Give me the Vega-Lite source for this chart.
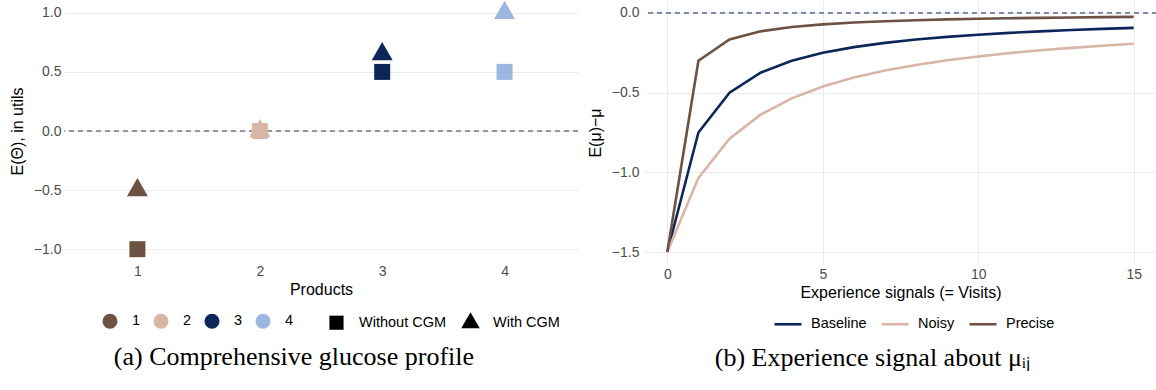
{
  "$schema": "https://vega.github.io/schema/vega-lite/v6.json",
  "padding": {"left": 9, "top": 0, "right": 0, "bottom": 0},
  "spacing": 8,
  "datasets": {
    "utility": [
      {"product": 1, "cgm": "Without CGM", "value": -1},
      {"product": 1, "cgm": "With CGM", "value": -0.5},
      {"product": 2, "cgm": "Without CGM", "value": 0},
      {"product": 2, "cgm": "With CGM", "value": 0},
      {"product": 3, "cgm": "Without CGM", "value": 0.5},
      {"product": 3, "cgm": "With CGM", "value": 0.65},
      {"product": 4, "cgm": "Without CGM", "value": 0.5},
      {"product": 4, "cgm": "With CGM", "value": 1}
    ],
    "learning": [
      {"visits": 0, "signal": "Baseline", "gap": -1.5},
      {"visits": 1, "signal": "Baseline", "gap": -0.75},
      {"visits": 2, "signal": "Baseline", "gap": -0.5},
      {"visits": 3, "signal": "Baseline", "gap": -0.375},
      {"visits": 4, "signal": "Baseline", "gap": -0.3},
      {"visits": 5, "signal": "Baseline", "gap": -0.25},
      {"visits": 6, "signal": "Baseline", "gap": -0.2143},
      {"visits": 7, "signal": "Baseline", "gap": -0.1875},
      {"visits": 8, "signal": "Baseline", "gap": -0.1667},
      {"visits": 9, "signal": "Baseline", "gap": -0.15},
      {"visits": 10, "signal": "Baseline", "gap": -0.1364},
      {"visits": 11, "signal": "Baseline", "gap": -0.125},
      {"visits": 12, "signal": "Baseline", "gap": -0.1154},
      {"visits": 13, "signal": "Baseline", "gap": -0.1071},
      {"visits": 14, "signal": "Baseline", "gap": -0.1},
      {"visits": 15, "signal": "Baseline", "gap": -0.0938},
      {"visits": 0, "signal": "Noisy", "gap": -1.5},
      {"visits": 1, "signal": "Noisy", "gap": -1.0345},
      {"visits": 2, "signal": "Noisy", "gap": -0.7895},
      {"visits": 3, "signal": "Noisy", "gap": -0.6383},
      {"visits": 4, "signal": "Noisy", "gap": -0.5357},
      {"visits": 5, "signal": "Noisy", "gap": -0.4615},
      {"visits": 6, "signal": "Noisy", "gap": -0.4054},
      {"visits": 7, "signal": "Noisy", "gap": -0.3614},
      {"visits": 8, "signal": "Noisy", "gap": -0.3261},
      {"visits": 9, "signal": "Noisy", "gap": -0.297},
      {"visits": 10, "signal": "Noisy", "gap": -0.2727},
      {"visits": 11, "signal": "Noisy", "gap": -0.2521},
      {"visits": 12, "signal": "Noisy", "gap": -0.2344},
      {"visits": 13, "signal": "Noisy", "gap": -0.219},
      {"visits": 14, "signal": "Noisy", "gap": -0.2055},
      {"visits": 15, "signal": "Noisy", "gap": -0.1935},
      {"visits": 0, "signal": "Precise", "gap": -1.5},
      {"visits": 1, "signal": "Precise", "gap": -0.3},
      {"visits": 2, "signal": "Precise", "gap": -0.1667},
      {"visits": 3, "signal": "Precise", "gap": -0.1154},
      {"visits": 4, "signal": "Precise", "gap": -0.0882},
      {"visits": 5, "signal": "Precise", "gap": -0.0714},
      {"visits": 6, "signal": "Precise", "gap": -0.06},
      {"visits": 7, "signal": "Precise", "gap": -0.0517},
      {"visits": 8, "signal": "Precise", "gap": -0.0455},
      {"visits": 9, "signal": "Precise", "gap": -0.0405},
      {"visits": 10, "signal": "Precise", "gap": -0.0366},
      {"visits": 11, "signal": "Precise", "gap": -0.0333},
      {"visits": 12, "signal": "Precise", "gap": -0.0306},
      {"visits": 13, "signal": "Precise", "gap": -0.0283},
      {"visits": 14, "signal": "Precise", "gap": -0.0263},
      {"visits": 15, "signal": "Precise", "gap": -0.0246}
    ],
    "zero": [{"y": 0}]
  },
  "hconcat": [
    {
      "width": 514,
      "height": 260,
      "title": {
        "text": "(a) Comprehensive glucose profile",
        "orient": "bottom",
        "anchor": "middle",
        "frame": "bounds",
        "font": "Liberation Serif",
        "fontSize": 26,
        "fontWeight": "normal",
        "color": "#000",
        "offset": 14
      },
      "layer": [
        {
          "data": {"name": "zero"},
          "mark": {"type": "rule", "color": "#3a3a3a", "strokeWidth": 1, "strokeDash": [5, 4]},
          "encoding": {"y": {"field": "y", "type": "quantitative"}}
        },
        {
          "data": {"name": "utility"},
          "mark": {"type": "point", "filled": true, "opacity": 1, "size": 256},
          "encoding": {
            "x": {
              "field": "product",
              "type": "ordinal",
              "scale": {"type": "point", "padding": 0.6},
              "axis": {"labelAngle": 0, "title": "Products", "labelPadding": 3, "titlePadding": 3}
            },
            "y": {
              "field": "value",
              "type": "quantitative",
              "scale": {"domain": [-1.1, 1.1], "nice": false, "zero": false},
              "axis": {"values": [-1, -0.5, 0, 0.5, 1], "format": ".1f", "title": "E(Θ), in utils", "labelPadding": 3, "titlePadding": 8}
            },
            "color": {
              "field": "product",
              "type": "ordinal",
              "scale": {"domain": [1, 2, 3, 4], "range": ["#6b5242", "#d8b5a5", "#0c2659", "#9bb7df"]},
              "legend": {"title": null, "orient": "none", "legendX": 38, "legendY": 312, "symbolType": "circle", "symbolSize": 227, "symbolStrokeWidth": 0, "labelOffset": 14, "columnPadding": 12}
            },
            "shape": {
              "field": "cgm",
              "type": "nominal",
              "scale": {"domain": ["Without CGM", "With CGM"], "range": ["square", "M0,-1.51L-1.31,0.76L1.31,0.76Z"]},
              "legend": {"title": null, "orient": "none", "legendX": 265, "legendY": 314, "symbolSize": 200, "symbolFillColor": "#000", "symbolStrokeWidth": 0, "labelOffset": 15, "columnPadding": 14}
            }
          }
        }
      ]
    },
    {
      "width": 513,
      "height": 263,
      "title": {
        "text": "(b) Experience signal about μᵢⱼ",
        "orient": "bottom",
        "anchor": "middle",
        "frame": "bounds",
        "font": "Liberation Serif",
        "fontSize": 26,
        "fontWeight": "normal",
        "color": "#000",
        "offset": 14
      },
      "layer": [
        {
          "data": {"name": "zero"},
          "mark": {"type": "rule", "color": "#0c2659", "strokeWidth": 1, "strokeDash": [5, 4]},
          "encoding": {"y": {"field": "y", "type": "quantitative"}}
        },
        {
          "data": {"name": "learning"},
          "mark": {"type": "line", "strokeWidth": 2.6},
          "encoding": {
            "x": {
              "field": "visits",
              "type": "quantitative",
              "scale": {"domain": [-0.75, 15.75], "nice": false, "zero": false},
              "axis": {"values": [0, 5, 10, 15], "title": "Experience signals (= Visits)", "labelPadding": 3, "titlePadding": 3}
            },
            "y": {
              "field": "gap",
              "type": "quantitative",
              "scale": {"domain": [-1.575, 0.075], "nice": false, "zero": false},
              "axis": {"values": [-1.5, -1, -0.5, 0], "format": ".1f", "title": "E(μ)−μ", "labelPadding": 5, "titlePadding": 8}
            },
            "color": {
              "field": "signal",
              "type": "nominal",
              "scale": {"domain": ["Baseline", "Noisy", "Precise"], "range": ["#0c2659", "#d8b5a5", "#6b5242"]},
              "legend": {"title": null, "orient": "none", "legendX": 129, "legendY": 308, "symbolType": "stroke", "symbolSize": 729, "symbolStrokeWidth": 2.6, "labelOffset": 8, "columnPadding": 9}
            }
          }
        }
      ]
    }
  ],
  "resolve": {"scale": {"color": "independent", "shape": "independent"}, "legend": {"color": "independent"}},
  "config": {
    "view": {"stroke": null},
    "font": "Liberation Sans",
    "axis": {
      "domain": false,
      "ticks": false,
      "gridColor": "#ebebeb",
      "gridWidth": 1,
      "labelColor": "#4d4d4d",
      "labelFont": "Liberation Sans",
      "labelFontSize": 14,
      "titleFont": "Liberation Sans",
      "titleFontSize": 16,
      "titleFontWeight": "normal",
      "titleColor": "#000"
    },
    "legend": {
      "direction": "horizontal",
      "padding": 0,
      "labelFont": "Liberation Sans",
      "labelFontSize": 14.5,
      "labelColor": "#000"
    }
  }
}
